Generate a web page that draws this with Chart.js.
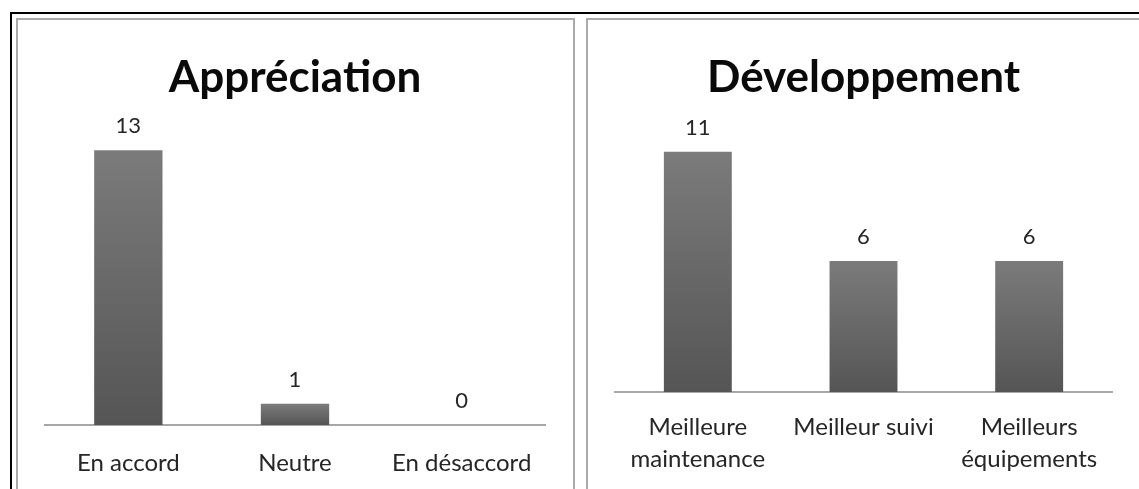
<!DOCTYPE html>
<html>
<head>
<meta charset="utf-8">
<script src="https://cdn.jsdelivr.net/npm/chart.js@4.4.0/dist/chart.umd.min.js"></script>
<style>
  html, body { margin: 0; padding: 0; background: #fff; overflow: hidden; width: 1139px; height: 489px; }
  #frame { position: absolute; left: 10px; top: 12px; width: 1200px; height: 600px;
           border-top: 2px solid #000; border-left: 2px solid #000; }
  .panel { position: absolute; top: 18px; height: 600px; border: 2px solid #aaa; background: #fff; }
  #p1 { left: 16px; width: 555px; }
  #p2 { left: 586px; width: 554px; }
  canvas { display: block; }
</style>
</head>
<body>
<div id="frame"></div>
<div class="panel" id="p1"><canvas id="c1" width="555" height="469"></canvas></div>
<div class="panel" id="p2"><canvas id="c2" width="554" height="469"></canvas></div>
<script>
// Survey results
const appreciationTitle = 'Appréciation';
const appreciationLabels = ['En accord', 'Neutre', 'En désaccord'];
const appreciationValues = [13, 1, 0];

const developpementTitle = 'Développement';
const developpementLabels = [['Meilleure', 'maintenance'], 'Meilleur suivi', ['Meilleurs', 'équipements']];
const developpementValues = [11, 6, 6];

const TEXT = '#262626';

// Value printed above each bar
const valueLabels = {
  id: 'valueLabels',
  afterDatasetsDraw(chart) {
    const ctx = chart.ctx;
    const values = chart.data.datasets[0].data;
    ctx.save();
    ctx.font = '22px Lato';
    ctx.fillStyle = TEXT;
    ctx.textAlign = 'center';
    ctx.textBaseline = 'alphabetic';
    chart.getDatasetMeta(0).data.forEach((bar, i) => {
      ctx.fillText(String(values[i]), bar.x, bar.y - 17);
    });
    ctx.restore();
  }
};

// Vertical grey gradient per bar, lighter at the top
function barFill(context) {
  const chart = context.chart;
  const y = chart.scales.y;
  if (!y || context.type !== 'data') return '#666666';
  const top = y.getPixelForValue(context.raw);
  const base = y.getPixelForValue(0);
  if (!isFinite(top) || !isFinite(base) || base - top < 1) return '#5a5a5a';
  const g = chart.ctx.createLinearGradient(0, top, 0, base);
  g.addColorStop(0, '#7b7b7b');
  g.addColorStop(1, '#555555');
  return g;
}

function makeChart(id, title, labels, values, o) {
  return new Chart(document.getElementById(id), {
    type: 'bar',
    data: {
      labels: labels,
      datasets: [{
        data: values,
        backgroundColor: barFill,
        borderWidth: 0,
        categoryPercentage: 1,
        barPercentage: 0.41
      }]
    },
    options: {
      responsive: false,
      animation: false,
      devicePixelRatio: 1,
      layout: { padding: { left: o.padLeft, right: o.padRight, top: 0, bottom: 0 } },
      plugins: {
        legend: { display: false },
        tooltip: { enabled: false },
        title: {
          display: true,
          text: title,
          color: '#0a0a0a',
          font: { family: 'Lato', size: 44, weight: 'bold', lineHeight: 1.2 },
          padding: { top: o.titleTop, bottom: o.titleBottom }
        }
      },
      scales: {
        x: {
          grid: { display: false, drawTicks: false },
          border: { display: true, color: '#a6a6a6', width: 2 },
          ticks: {
            color: TEXT,
            font: { family: 'Lato', size: 24, lineHeight: o.lineHeight },
            padding: o.tickPad,
            maxRotation: 0,
            autoSkip: false
          },
          afterFit(scale) { scale.height = o.axisHeight; }
        },
        y: { display: false, min: 0, max: o.max }
      }
    },
    plugins: [valueLabels]
  });
}

Promise.all([
  document.fonts.load('700 44px Lato'),
  document.fonts.load('24px Lato')
]).catch(() => {}).then(() => {
  makeChart('c1', appreciationTitle, appreciationLabels, appreciationValues, {
    max: 14, padLeft: 27, padRight: 28, axisHeight: 64, tickPad: 22, lineHeight: 1.35,
    titleTop: 31, titleBottom: 25.2
  });
  makeChart('c2', developpementTitle, developpementLabels, developpementValues, {
    max: 12, padLeft: 27, padRight: 30, axisHeight: 97, tickPad: 19, lineHeight: 1.33,
    titleTop: 31, titleBottom: 26.2
  });
});
</script>
</body>
</html>
